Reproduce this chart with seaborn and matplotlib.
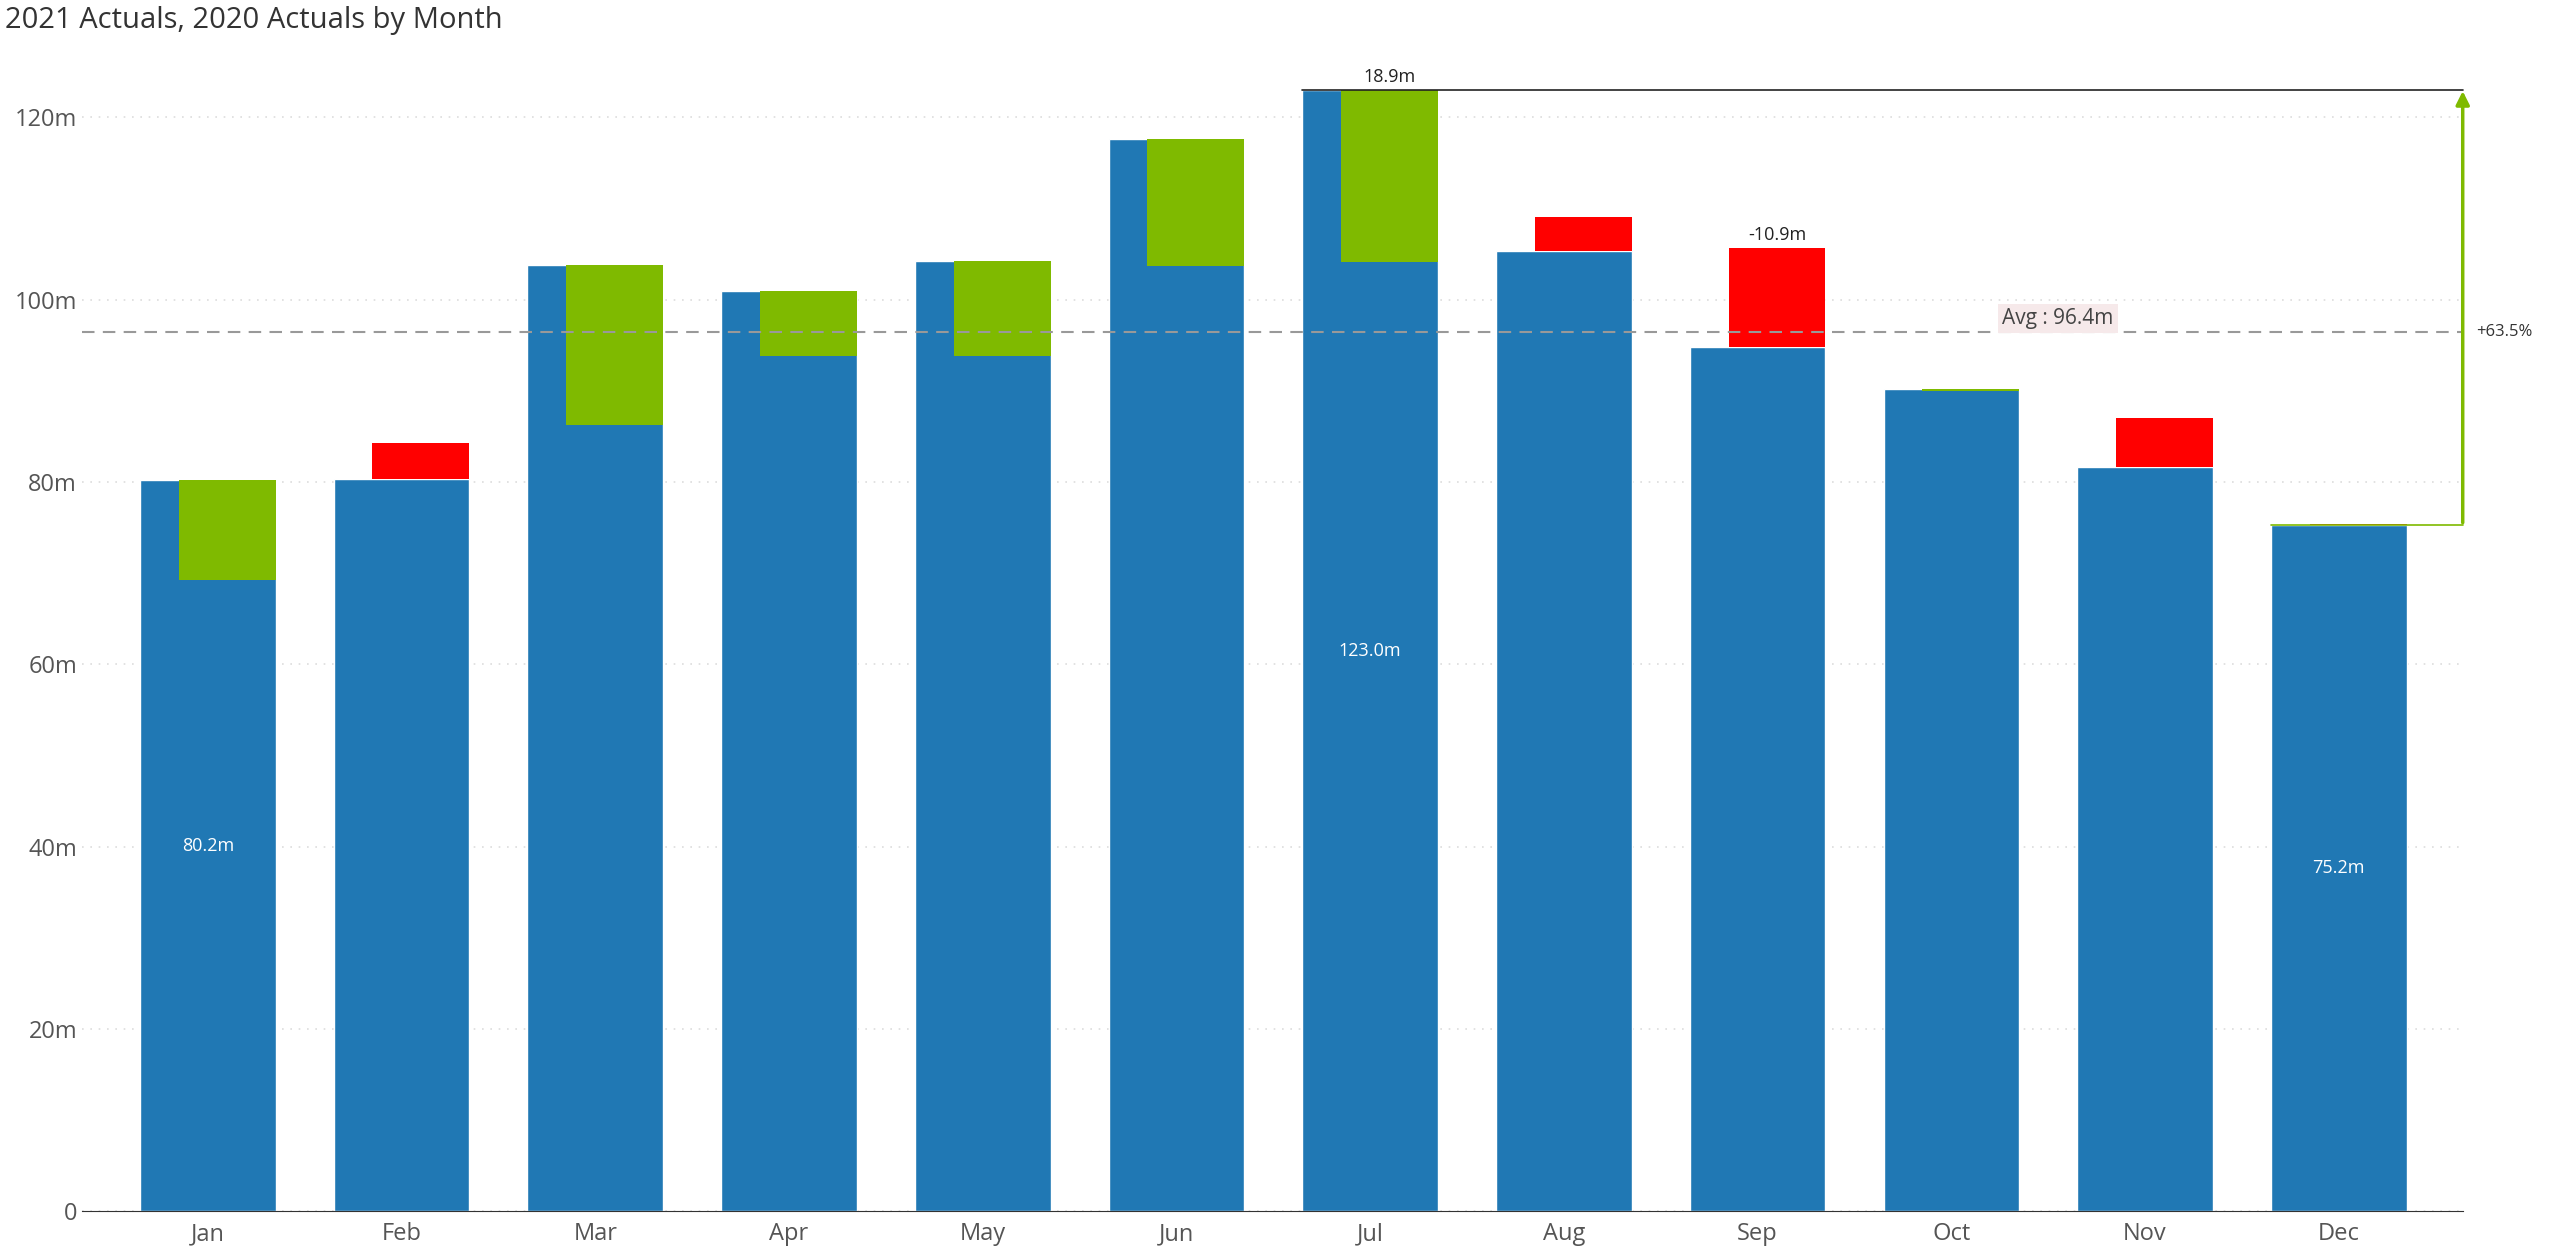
import matplotlib
matplotlib.use("Agg")
import matplotlib.pyplot as plt
import seaborn as sns
import pandas as pd
import numpy as np

# values in millions
months = ["Jan", "Feb", "Mar", "Apr", "May", "Jun", "Jul", "Aug", "Sep", "Oct", "Nov", "Dec"]
actual_2021 = [80.2, 80.3, 103.8, 101.0, 104.2, 117.6, 123.0, 105.3, 94.8, 90.2, 81.6, 75.23]
actual_2020 = [69.2, 84.3, 86.3, 93.8, 93.8, 103.7, 104.1, 109.1, 105.7, 90.0, 87.0, 75.4]
inside_labels = {"Jan": "80.2m", "Jul": "123.0m", "Dec": "75.2m"}
top_labels = {"Jul": "18.9m", "Sep": "-10.9m"}

BLUE = "#2078B4"
GREEN = "#7FBA00"
RED = "#FF0000"

df = pd.DataFrame({"month": months, "ac": actual_2021, "py": actual_2020})

sns.set_style("white")
plt.rcParams['font.family'] = ['Open Sans', 'DejaVu Sans']

fig = plt.figure(figsize=(25.6, 12.55), dpi=100)
ax = fig.add_axes([0.032, 0.035, 0.93, 0.915])

sns.barplot(data=df, x="month", y="ac", color=BLUE, width=0.7, saturation=1, ax=ax)

# variance overlay on the right part of each bar
x = np.arange(len(months))
delta = df["ac"] - df["py"]
lo = np.minimum(df["ac"], df["py"])
colors = [GREEN if d >= 0 else RED for d in delta]
ax.bar(x + 0.1, delta.abs(), bottom=lo, width=0.5, color=colors, linewidth=0)

for i, m in enumerate(months):
    if m in inside_labels:
        ax.text(i, df["ac"][i] / 2, inside_labels[m], color="white", ha="center",
                va="center", fontsize=13)
    if m in top_labels:
        ax.text(i + 0.1, max(df["ac"][i], df["py"][i]) + 0.4, top_labels[m],
                ha="center", va="bottom", fontsize=13, color="#222222")

# average line
avg = df["ac"].mean()
ax.axhline(avg, color="#999999", linestyle=(0, (6, 4)), linewidth=1.5, zorder=3)
ax.text(10.3 - 0.75, avg + 1.5, f"Avg : {avg:.1f}m", ha="center", va="center",
        fontsize=15, color="#444444",
        bbox=dict(boxstyle="square,pad=0.2", fc="#F6E9EA", ec="none"))

# max vs min comparison
imax, imin = int(df["ac"].idxmax()), int(df["ac"].idxmin())
xr = 11.64
ax.plot([imax - 0.35, xr], [df["ac"][imax]] * 2, color="#222222", lw=1.2, clip_on=False)
ax.plot([imin - 0.35, xr], [df["ac"][imin]] * 2, color=GREEN, lw=1.2, clip_on=False)
ax.annotate("", xy=(xr, df["ac"][imax] + 0.2), xytext=(xr, df["ac"][imin]),
            arrowprops=dict(arrowstyle="-|>", color=GREEN, lw=2.5, mutation_scale=20),
            annotation_clip=False)
pct = (df["ac"][imax] / df["ac"][imin] - 1) * 100
ax.text(xr + 0.07, avg, f"+{pct:.1f}%", ha="left", va="center", fontsize=12,
        color="#333333", clip_on=False)

ax.set_xlim(-0.65, 11.64)
ax.set_ylim(0, 126)
ax.set_yticks(range(0, 121, 20))
ax.set_yticklabels(["0"] + [f"{v}m" for v in range(20, 121, 20)])
ax.yaxis.grid(True, color="#DDDDDD", linestyle=(0, (1, 4)), linewidth=1.2)
ax.set_axisbelow(True)
ax.set_xlabel("")
ax.set_ylabel("")
for s in ["top", "right", "left"]:
    ax.spines[s].set_visible(False)
ax.spines["bottom"].set_color("#333333")
ax.tick_params(axis="both", labelsize=17, colors="#555555", length=0)
ax.tick_params(axis="x", pad=8)

fig.text(0.002, 0.995, "2021 Actuals, 2020 Actuals by Month", ha="left", va="top",
         fontsize=21, color="#333333")

fig.savefig("out.png", dpi=100)
